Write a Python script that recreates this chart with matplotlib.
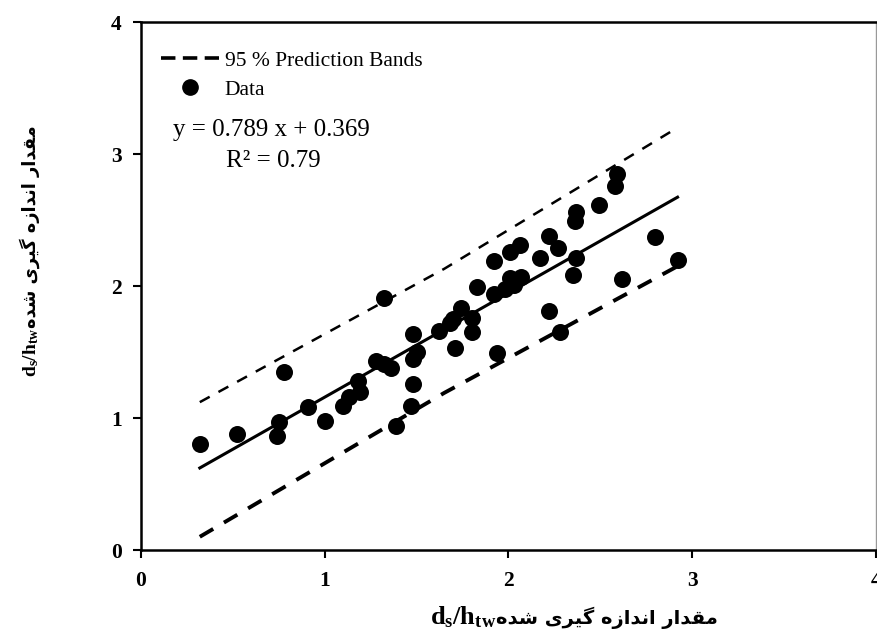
import matplotlib
matplotlib.use("Agg")
import matplotlib.pyplot as plt
from matplotlib.lines import Line2D

x_data = [0.32, 0.52, 0.75, 0.74, 0.78, 0.91, 1.00, 1.10, 1.13, 1.18, 1.19,
          1.28, 1.32, 1.36, 1.32, 1.39, 1.47, 1.48, 1.48, 1.50, 1.48, 1.62,
          1.68, 1.70, 1.71, 1.74, 1.80, 1.80, 1.83, 1.92, 1.94, 1.92, 1.98,
          2.01, 2.01, 2.03, 2.06, 2.07, 2.17, 2.22, 2.22, 2.27, 2.28, 2.35,
          2.36, 2.37, 2.37, 2.49, 2.58, 2.59, 2.62, 2.80, 2.92]
y_data = [0.80, 0.88, 0.97, 0.86, 1.35, 1.08, 0.98, 1.09, 1.16, 1.28, 1.20,
          1.43, 1.41, 1.38, 1.91, 0.94, 1.09, 1.26, 1.45, 1.50, 1.64, 1.66,
          1.72, 1.75, 1.53, 1.83, 1.76, 1.65, 1.99, 1.94, 1.49, 2.19, 1.98,
          2.26, 2.06, 2.01, 2.31, 2.07, 2.21, 2.38, 1.81, 2.29, 1.65, 2.08,
          2.49, 2.56, 2.21, 2.61, 2.76, 2.85, 2.05, 2.37, 2.20]

slope = 0.789
intercept = 0.369
fit_x = [0.32, 2.92]

band_x = [0.32, 1.65, 2.92]
band_upper = [1.12, 2.13, 3.20]
band_lower = [0.10, 1.19, 2.15]

ticks = [0, 1, 2, 3, 4]

# Persian label in visual order (presentation forms): "مقدار اندازه گیری شده"
label_fa = ("\ufee9\ufeaa\ufeb7 "
            "\ufbfc\ufeae\ufbff\ufb94 "
            "\ufee9\ufeaf\ufe8d\ufeaa\ufee7\ufe8d "
            "\ufead\ufe8d\ufeaa\ufed8\ufee3")

plt.rcParams['font.family'] = ['Liberation Serif', 'DejaVu Sans']
plt.rcParams['mathtext.fontset'] = 'custom'
plt.rcParams['mathtext.rm'] = 'Liberation Serif'
plt.rcParams['mathtext.bf'] = 'Liberation Serif:bold'
plt.rcParams['mathtext.it'] = 'Liberation Serif:italic'

fig = plt.figure(figsize=(8.77, 6.38), dpi=100)
ax = fig.add_axes([141 / 877, 88 / 638, 735 / 877, 528 / 638])

ax.scatter(x_data, y_data, s=150, color='black', zorder=3, linewidths=0)
ax.plot(fit_x, [slope * v + intercept for v in fit_x], color='black', lw=2.2)
ax.plot(band_x, band_upper, color='black', lw=1.8, dashes=(4.5, 4.0))
ax.plot(band_x, band_lower, color='black', lw=2.8, dashes=(4.0, 3.2))

ax.set_xlim(0, 4)
ax.set_ylim(0, 4)
ax.set_xticks(ticks)
ax.set_yticks(ticks)
ax.set_xticklabels([str(t) for t in ticks], fontsize=15.5, fontweight='bold')
ax.set_yticklabels([str(t) for t in ticks], fontsize=15.5, fontweight='bold')
ax.tick_params(axis='both', direction='out', length=6, width=1.5)
ax.tick_params(axis='x', pad=9)
ax.tick_params(axis='y', pad=8)
for side in ['left', 'bottom', 'top']:
    ax.spines[side].set_linewidth(1.8)
ax.spines['right'].set_linewidth(1.0)
ax.spines['right'].set_color('#999999')

handles = [Line2D([], [], color='black', lw=2.6, dashes=(4.0, 2.05)),
           Line2D([], [], color='black', ls='none', marker='o', markersize=11)]
ax.legend(handles, ['95 % Prediction Bands', 'Data'], loc='upper left',
          bbox_to_anchor=(0.016, 0.962), frameon=False, fontsize=15.5,
          handlelength=2.7, handletextpad=0.25, labelspacing=0.42,
          borderaxespad=0)

ax.text(0.175, 3.18, 'y = 0.789 x + 0.369', fontsize=18, va='center')
ax.text(0.46, 2.95, 'R\u00b2 = 0.79', fontsize=18, va='center')

# x label: d_s/h_tw followed by the Persian words
t1 = fig.text(430 / 877, 14 / 638, r'$\mathbf{d_s/h_{tw}}$', fontsize=19,
              ha='left', va='baseline')
# y label (rotated), reading bottom to top
t3 = fig.text(36 / 877, 261 / 638, r'$\mathbf{d_s/h_{tw}}$', fontsize=14,
              ha='left', va='baseline', rotation=90, rotation_mode='anchor',
              family='DejaVu Sans')
fig.canvas.draw()
r = fig.canvas.get_renderer()
b1 = t1.get_window_extent(r)
fig.text(b1.x1 / 877, 14 / 638, label_fa, fontsize=14, fontweight='bold',
         family='DejaVu Sans', ha='left', va='baseline')
b3 = t3.get_window_extent(r)
fig.text(36 / 877, b3.y1 / 638, label_fa, fontsize=12.8, fontweight='bold',
         family='DejaVu Sans', ha='left', va='baseline', rotation=90,
         rotation_mode='anchor')

fig.savefig('out.png', dpi=100)
